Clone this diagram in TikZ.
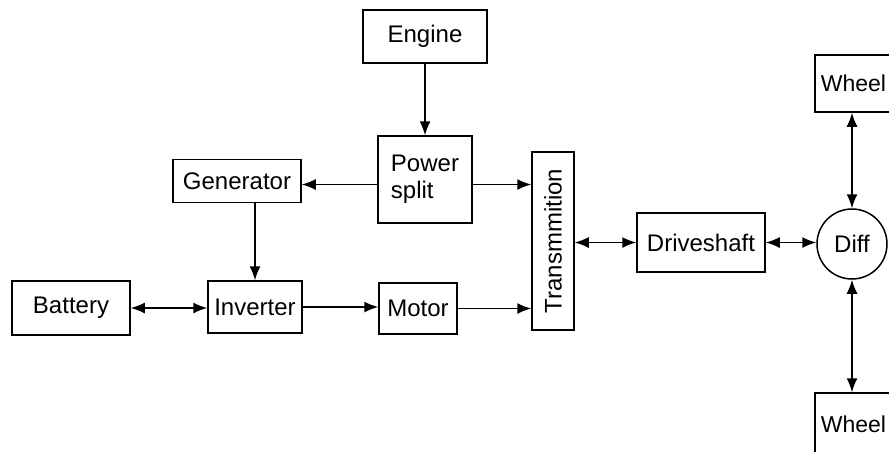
\documentclass[tikz,border=0pt]{standalone}
\usepackage{fontspec}
\setmainfont{Liberation Sans}
\usetikzlibrary{arrows.meta}
\begin{document}
\begin{tikzpicture}[x=1pt,y=-1pt,
  box/.style={draw, line width=1.5pt, inner sep=0pt, font=\fontsize{24}{27}\selectfont},
  arr/.style={line width=1.5pt, -{Latex[length=14pt,width=11pt]}},
  darr/.style={line width=1.5pt, {Latex[length=14pt,width=11pt]}-{Latex[length=14pt,width=11pt]}}]
\useasboundingbox (0,0) rectangle (889,451);
\fill[white] (0,0) rectangle (889,451);
\clip (0,0) rectangle (889,451);
\node[box, minimum width=124, minimum height=53] (engine) at (425,36.5) {Engine};
\node[box, minimum width=94, minimum height=87, align=left] (power) at (425,179.5) {Power\\split};
\node[box, minimum width=128, minimum height=43] (gen) at (237,181) {Generator};
\node[box, minimum width=118, minimum height=54] (bat) at (71,308) {Battery};
\node[box, minimum width=94, minimum height=52] (inv) at (255,307) {Inverter};
\node[box, minimum width=78, minimum height=51] (motor) at (418,308.5) {Motor};
\node[box, minimum width=42, minimum height=178] (trans) at (553,241) {\rotatebox{90}{Transmmition}};
\node[box, minimum width=128, minimum height=59] (drive) at (701,242.5) {Driveshaft};
\node[box, circle, minimum size=70] (diff) at (852,244) {Diff};
\node[box, minimum width=77, minimum height=57, font=\fontsize{23}{26}\selectfont] (wt) at (853.5,83.5) {Wheel};
\node[box, minimum width=77, minimum height=62, font=\fontsize{23}{26}\selectfont] (wb) at (853.5,424) {Wheel};
\draw[arr] (engine.south) -- (power.north);
\draw[arr] ([yshift=-5pt]power.west) -- ([yshift=-5pt]power.west -| gen.east);
\draw[arr] ([yshift=-5pt]power.east) -- ([yshift=-5pt]power.east -| trans.west);
\draw[arr] (gen.south -| inv.north) -- (inv.north);
\draw[darr] (bat.east) -- (bat.east -| inv.west);
\draw[arr] (inv.east) -- (inv.east -| motor.west);
\draw[arr] (motor.east) -- (motor.east -| trans.west);
\draw[darr] (trans.east |- drive.west) -- (drive.west);
\draw[darr] (drive.east) -- (drive.east -| diff.west);
\draw[darr] (diff.north |- wt.south) -- (diff.north);
\draw[darr] (diff.south) -- (diff.south |- wb.north);
\end{tikzpicture}
\end{document}
